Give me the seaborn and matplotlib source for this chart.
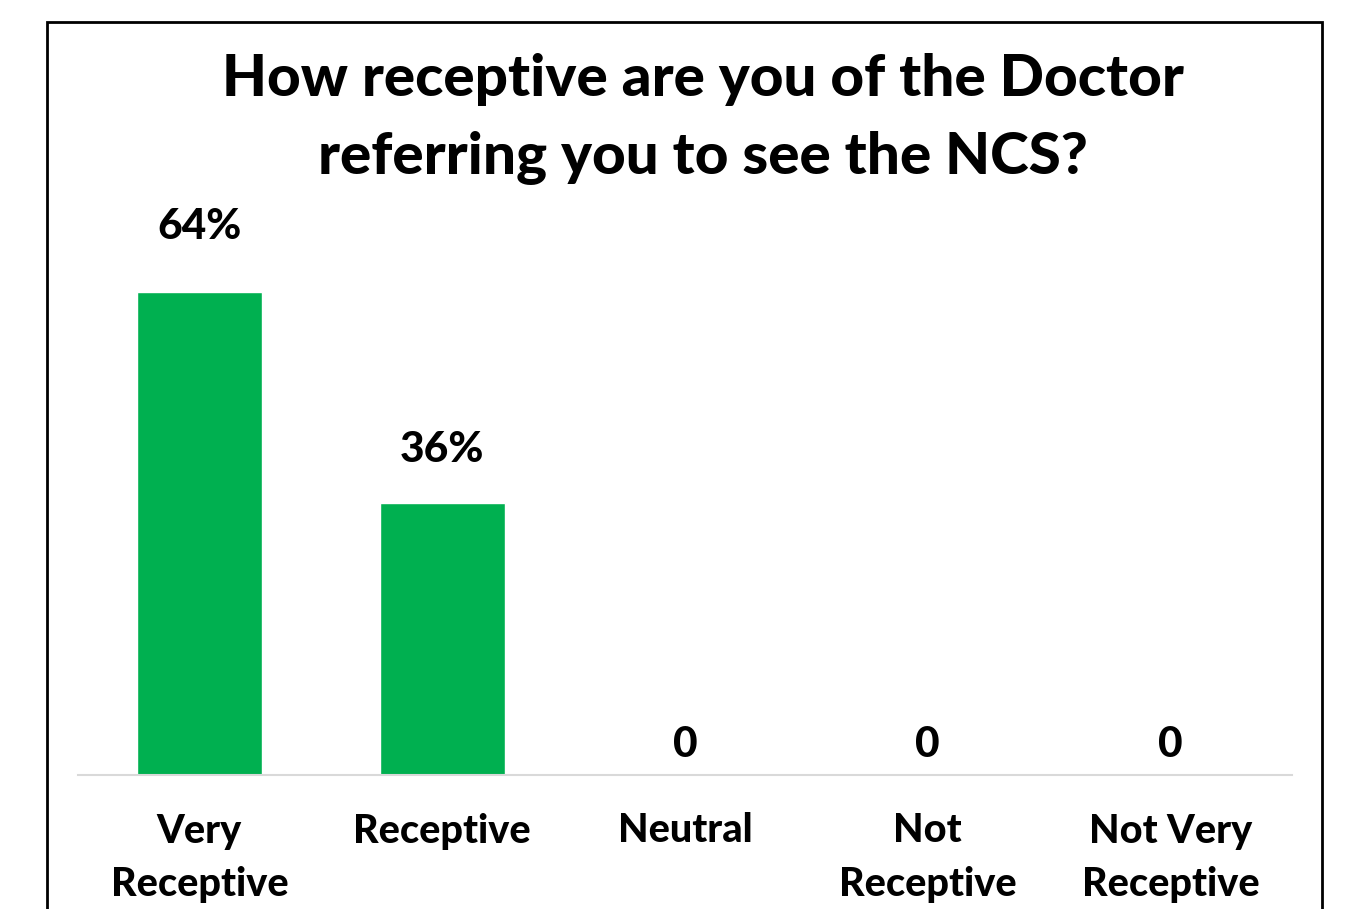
import pandas as pd
import seaborn as sns
import matplotlib.pyplot as plt
from matplotlib.patches import Rectangle

# chart data
categories = ["Very\nReceptive", "Receptive", "Neutral", "Not\nReceptive", "Not Very\nReceptive"]
values = [64, 36, 0, 0, 0]
value_labels = ["64%", "36%", "0", "0", "0"]

df = pd.DataFrame({"Resposta": categories, "Valor": values})

sns.set_theme(style="white")
plt.rcParams['font.family'] = ['Lato', 'DejaVu Sans']

fig = plt.figure(figsize=(13.53, 9.09), dpi=100)
ax = fig.add_axes([78/1353, 1 - 775/909, (1292-78)/1353, (775-200)/909])

sns.barplot(data=df, x="Resposta", y="Valor", color="#00B050", saturation=1,
            width=0.515, ax=ax)

ax.set_ylim(0, 76.2)
ax.set_xlim(-0.5, 4.5)

# data labels
pads = [33, 25, 8]
for i, (v, lab) in enumerate(zip(values, value_labels)):
    ax.annotate(lab, (i, v), xytext=(0, pads[min(i, 2)]), textcoords="offset points",
                ha="center", va="bottom", fontsize=30.5, fontweight=900, color="black")

ax.set(xlabel="", ylabel="")
ax.set_yticks([])
ax.tick_params(axis="x", length=0, pad=27, labelsize=28.5, labelcolor="black")
for t in ax.get_xticklabels():
    t.set_fontweight(900)
    t.set_linespacing(1.54)
sns.despine(ax=ax, left=True)
ax.spines["bottom"].set_color("#D9D9D9")
ax.spines["bottom"].set_linewidth(1.5)

fig.text(703/1353, 1 - 119/909, "How receptive are you of the Doctor\nreferring you to see the NCS?",
         ha="center", va="center", fontsize=42, fontweight=900, linespacing=1.57,
         color="black")

# outer chart border
fig.patches.append(Rectangle((47/1353, -0.1), (1322-47)/1353, 1.1 - 22/909,
                             transform=fig.transFigure, fill=False,
                             edgecolor="black", linewidth=2, clip_on=False))

fig.savefig("out.png", dpi=100, facecolor="white")
